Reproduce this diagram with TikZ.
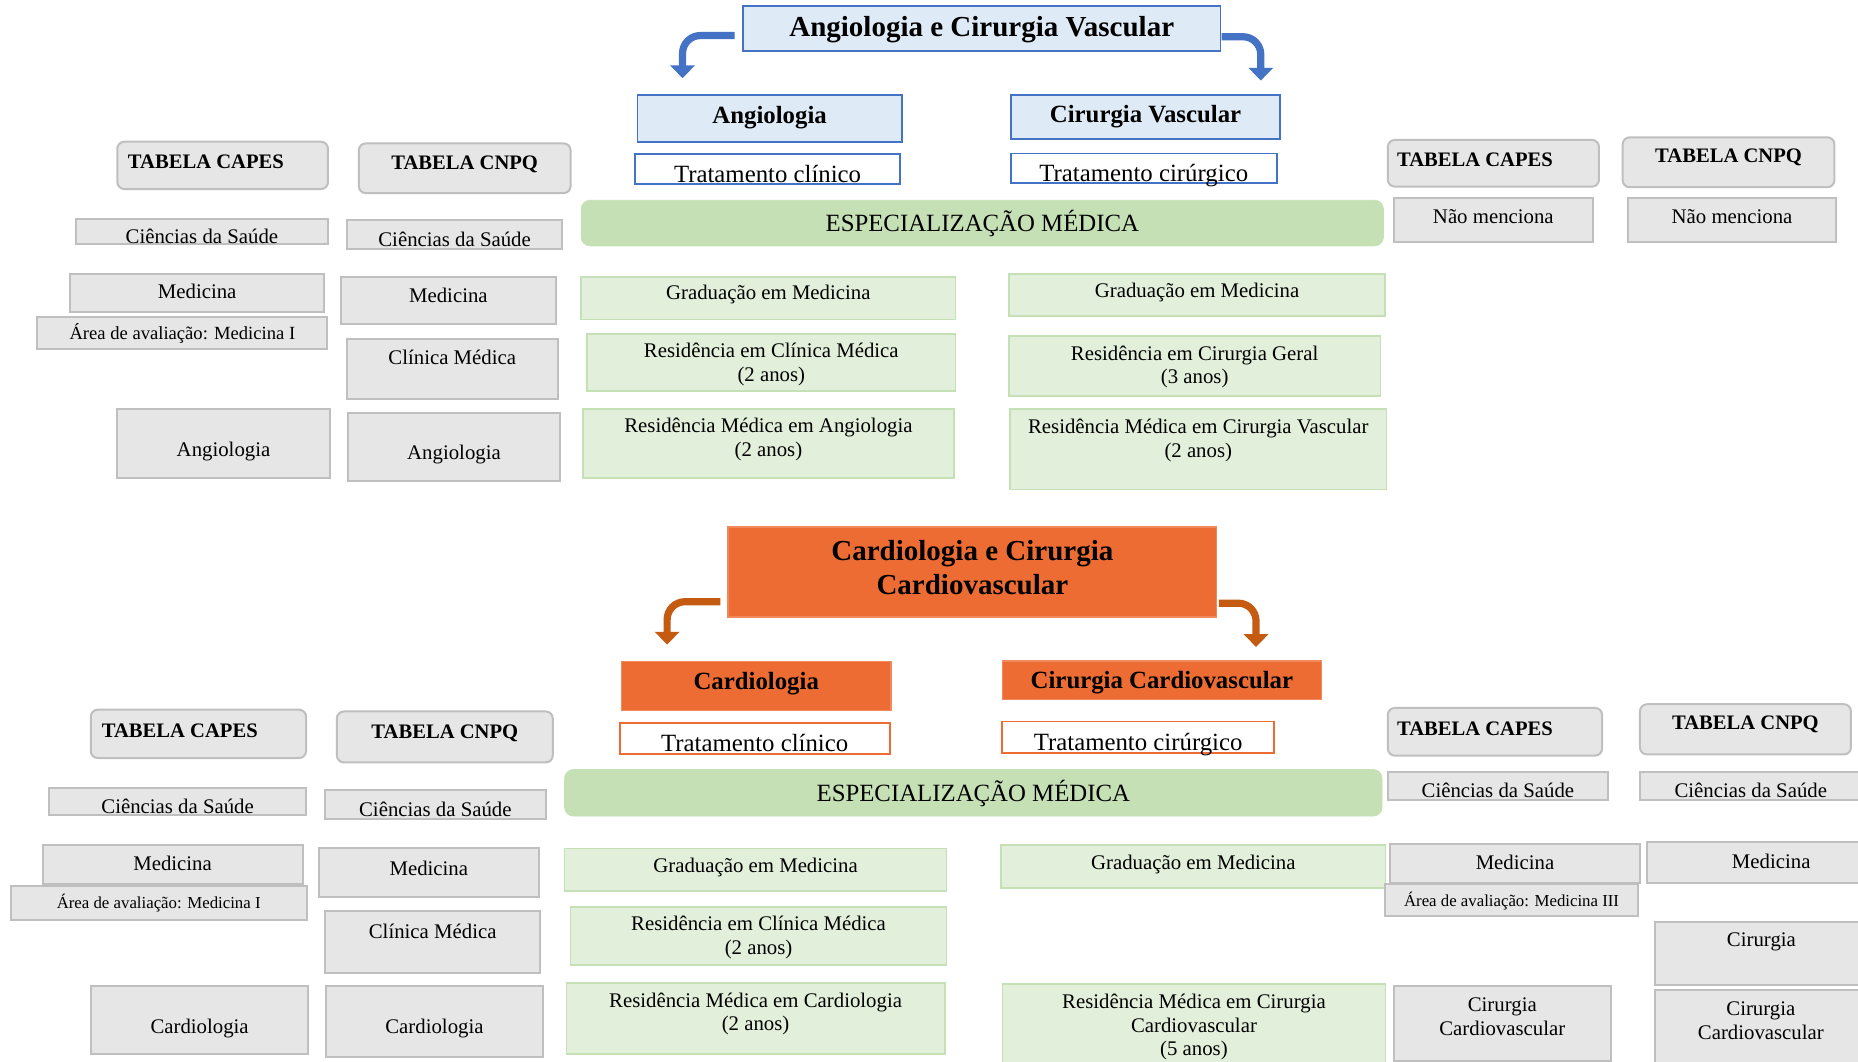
\documentclass[tikz,border=0pt]{standalone}
\usepackage{fontspec}
\setmainfont{Liberation Serif}
\usetikzlibrary{fit,calc,arrows.meta}
\definecolor{bluefill}{HTML}{DEEBF7}
\definecolor{blueline}{HTML}{4472C4}
\definecolor{grayfill}{HTML}{E7E6E6}
\definecolor{grayline}{HTML}{BFBFBF}
\definecolor{lgfill}{HTML}{E2EFDA}
\definecolor{lgline}{HTML}{C5E0B4}
\definecolor{barfill}{HTML}{C5E0B4}
\definecolor{orfill}{HTML}{ED6C33}
\definecolor{orline}{HTML}{F08A5D}
\definecolor{orarrow}{HTML}{C55A11}
\newcommand\fA{\fontsize{14.5}{17.2}\selectfont\bfseries}
\newcommand\fB{\fontsize{12.4}{14.5}\selectfont}
\newcommand\fBb{\fontsize{12.4}{14.5}\selectfont\bfseries}
\newcommand\fC{\fontsize{10.4}{11.9}\selectfont}
\newcommand\fCb{\fontsize{10.3}{11.9}\selectfont\bfseries}
\newcommand\fD{\fontsize{9.3}{11}\selectfont}
\newcommand\fE{\fontsize{8.4}{10}\selectfont}
% #1 box style, #2 name, #3 x1, #4 y1, #5 x2, #6 y2, #7 text y, #8 text options, #9 text
\newcommand\bx[9]{%
  \node[#1, fit={(#3,#4) (#5,#6)}] (#2) {};
  \node[lbl, #8] (#2-t) at ({(#3+#5)/2},#7) {#9};
}
\begin{document}
\begin{tikzpicture}[x=0.5925pt, y=-0.5925pt,
  every node/.style={inner sep=0pt, outer sep=0pt},
  lbl/.style={align=center, text=black, font=\fC, yshift=-1pt},
  tb/.style={fill=bluefill, draw=blueline, line width=0.9pt},
  tw/.style={fill=white, draw=blueline, line width=0.9pt},
  gr/.style={fill=grayfill, draw=grayline, line width=1pt},
  grr/.style={gr, rounded corners=3.5pt},
  lg/.style={fill=lgfill, draw=lgline, line width=0.8pt},
  bar/.style={fill=barfill, draw=barfill, rounded corners=4.5pt},
  to/.style={fill=orfill, draw=orline, line width=0.8pt},
  ow/.style={fill=white, draw=orfill, line width=0.9pt},
  bentarrow/.style={line width=3.6pt, rounded corners=8.9pt,
    -{Triangle[width=12pt,length=6.4pt]}},
  barrow/.style={bentarrow, draw=blueline},
  oarrow/.style={bentarrow, draw=orarrow}]
\useasboundingbox (0,0) rectangle (1568,896);
\fill[white] (0,0) rectangle (1568,896);

% ---------------- top: Angiologia e Cirurgia Vascular ----------------
\bx{tb}{t1}{627}{5}{1030}{43}{23}{font=\fA}{Angiologia e Cirurgia Vascular}
\bx{tb}{ang}{538}{80}{761}{120}{97.5}{font=\fBb}{Angiologia}
\bx{tb}{cv}{853}{80}{1080.5}{117}{96.5}{font=\fBb}{Cirurgia Vascular}
\bx{tw}{tc1}{536}{130}{759.5}{155.5}{152.5}{font=\fB, anchor=base}{Tratamento clínico}
\bx{tw}{tq1}{853}{129.5}{1077.5}{154.5}{151.5}{font=\fB, anchor=base}{Tratamento cirúrgico}
\bx{bar}{esp1}{490.5}{169}{1167.5}{207.5}{187}{font=\fB}{ESPECIALIZAÇÃO MÉDICA}
\bx{lg}{g1}{490.5}{234}{806.3}{269.5}{247}{}{Graduação em Medicina}
\bx{lg}{rc1}{495.5}{282}{806.3}{330}{306}{}{Residência em Clínica Médica\\(2 anos)}
\bx{lg}{ra1}{492}{345.4}{805}{403.6}{369}{}{Residência Médica em Angiologia\\(2 anos)}
\bx{lg}{g2}{851.4}{231.2}{1169}{266.7}{245}{}{Graduação em Medicina}
\bx{lg}{rg2}{851.4}{283.5}{1165}{334}{308}{}{Residência em Cirurgia Geral\\(3 anos)}
\bx{lg}{rv2}{852.5}{345.4}{1170}{413}{370}{}{Residência Médica em Cirurgia Vascular\\(2 anos)}

\coordinate (a1e) at (576,66);
\coordinate (a2e) at (1064,68);
\draw[barrow] ($(t1.west)+(-7,6)$) -| (a1e);
\draw[barrow] ($(t1.east)+(1,7)$) -| (a2e);

% left tables (top)
\node[grr, fit={(99,119.6) (276.8,159.5)}] (capesA) {};
\node[lbl, font=\fCb, anchor=west] (capesA-t) at (108,135) {TABELA CAPES};
\bx{grr}{cnpqA}{302.8}{121}{481.5}{163}{137}{font=\fCb}{TABELA CNPQ}
\bx{gr}{csA1}{64}{184.5}{276.8}{206.2}{198}{}{Ciências da Saúde}
\bx{gr}{csA2}{292.8}{186}{474.5}{209.8}{200}{}{Ciências da Saúde}
\bx{gr}{medA1}{59}{231}{273.8}{263.6}{244.5}{}{Medicina}
\bx{gr}{areaA}{31.5}{267.5}{276.3}{294.8}{280}{font=\fD}{Área de avaliação: Medicina I}
\bx{gr}{medA2}{287.8}{234}{469}{273.7}{248}{}{Medicina}
\bx{gr}{cliA2}{292.8}{286.3}{470.5}{336.7}{300}{}{Clínica Médica}
\bx{gr}{angA1}{99}{345.4}{278.3}{403.7}{379}{}{Angiologia}
\bx{gr}{angA2}{293.3}{348.3}{473}{406}{382}{}{Angiologia}

% right tables (top)
\node[grr, fit={(1171.2,118.1) (1349.4,157.5)}] (capesB) {};
\node[lbl, font=\fCb, anchor=west] (capesB-t) at (1179,133) {TABELA CAPES};
\bx{grr}{cnpqB}{1369.4}{115.9}{1548.1}{158}{131}{font=\fCb}{TABELA CNPQ}
\bx{gr}{nmB1}{1176.2}{167.4}{1344.3}{204}{181.5}{}{Não menciona}
\bx{gr}{nmB2}{1373.8}{167.4}{1549.6}{204}{181.5}{}{Não menciona}

% ---------------- bottom: Cardiologia e Cirurgia Cardiovascular ----------------
\bx{to}{t2}{614.6}{444.6}{1026.6}{520.8}{477.5}{font=\fA}{Cardiologia e Cirurgia\\Cardiovascular}
\bx{to}{card}{524.6}{558.3}{751.8}{599.5}{575.5}{font=\fBb}{Cardiologia}
\bx{to}{ccv}{845.9}{558}{1115.2}{590.4}{574}{font=\fBb}{Cirurgia Cardiovascular}
\bx{ow}{tc2}{523}{610.4}{750.8}{636.1}{632.8}{font=\fB, anchor=base}{Tratamento clínico}
\bx{ow}{tq2}{845.9}{608.9}{1075.1}{635.2}{631.5}{font=\fB, anchor=base}{Tratamento cirúrgico}
\bx{bar}{esp2}{476.5}{649.4}{1166.3}{688.7}{668}{font=\fB}{ESPECIALIZAÇÃO MÉDICA}
\bx{lg}{g3}{476.5}{716}{798.8}{751.7}{730}{}{Graduação em Medicina}
\bx{lg}{rc3}{481.5}{765.2}{798.8}{814.3}{789.5}{}{Residência em Clínica Médica\\(2 anos)}
\bx{lg}{rcard3}{478}{829.7}{797.3}{889.3}{854}{}{Residência Médica em Cardiologia\\(2 anos)}
\bx{lg}{g4}{845}{713.3}{1169.2}{749.5}{728}{}{Graduação em Medicina}
\bx{lg}{rcc4}{846}{830.3}{1169.2}{905}{865}{}{Residência Médica em Cirurgia\\Cardiovascular\\(5 anos)}

\coordinate (a3e) at (563,544);
\coordinate (a4e) at (1060,546);
\draw[oarrow] ($(t2.west)+(-6.6,25.1)$) -| (a3e);
\draw[oarrow] ($(t2.east)+(2,26.3)$) -| (a4e);

% left tables (bottom)
\node[grr, fit={(76.6,598.9) (258.3,639.7)}] (capesC) {};
\node[lbl, font=\fCb, anchor=west] (capesC-t) at (86,615) {TABELA CAPES};
\bx{grr}{cnpqC}{284.3}{600.4}{466.5}{643.4}{617}{font=\fCb}{TABELA CNPQ}
\bx{gr}{csC1}{41.5}{665.4}{258.3}{687.5}{679}{}{Ciências da Saúde}
\bx{gr}{csC2}{274.3}{667}{460.5}{691}{681}{}{Ciências da Saúde}
\bx{gr}{medC1}{36}{712.9}{255.3}{746.2}{727}{}{Medicina}
\bx{gr}{areaC}{9}{748}{258.8}{776.4}{760.5}{font=\fE}{Área de avaliação: Medicina I}
\bx{gr}{medC2}{269.3}{716}{454.5}{756.8}{731}{}{Medicina}
\bx{gr}{cliC2}{274.3}{769.2}{456}{821.2}{784}{}{Clínica Médica}
\bx{gr}{cardC1}{76.6}{831.8}{260.3}{889.3}{866}{}{Cardiologia}
\bx{gr}{cardC2}{275.3}{831.8}{458}{892}{866}{}{Cardiologia}

% right tables (bottom)
\node[grr, fit={(1171.2,597.4) (1352,637.7)}] (capesD) {};
\node[lbl, font=\fCb, anchor=west] (capesD-t) at (1179,613) {TABELA CAPES};
\bx{grr}{cnpqD}{1384}{594.3}{1562}{636.7}{610}{font=\fCb}{TABELA CNPQ}
\bx{gr}{csD1}{1171.2}{651.2}{1357}{675.5}{665}{}{Ciências da Saúde}
\bx{gr}{csD2}{1384.4}{651.2}{1570.6}{675.5}{665}{}{Ciências da Saúde}
\bx{gr}{medD1}{1172.7}{712.3}{1384.4}{745}{726}{}{Medicina}
\bx{gr}{areaD}{1169.2}{746.2}{1382}{772.8}{758.5}{font=\fE}{Área de avaliação: Medicina III}
\bx{gr}{medD2}{1389.5}{710.8}{1600}{745}{725}{}{Medicina}
\bx{gr}{cirD2}{1396.5}{778.2}{1576.5}{830.9}{793}{}{Cirurgia}
\bx{gr}{ccvD1}{1176.2}{831.8}{1359.4}{895.4}{856}{}{Cirurgia\\Cardiovascular}
\bx{gr}{ccvD2}{1396.5}{835.7}{1575.5}{900}{860}{}{Cirurgia\\Cardiovascular}
\end{tikzpicture}
\end{document}
